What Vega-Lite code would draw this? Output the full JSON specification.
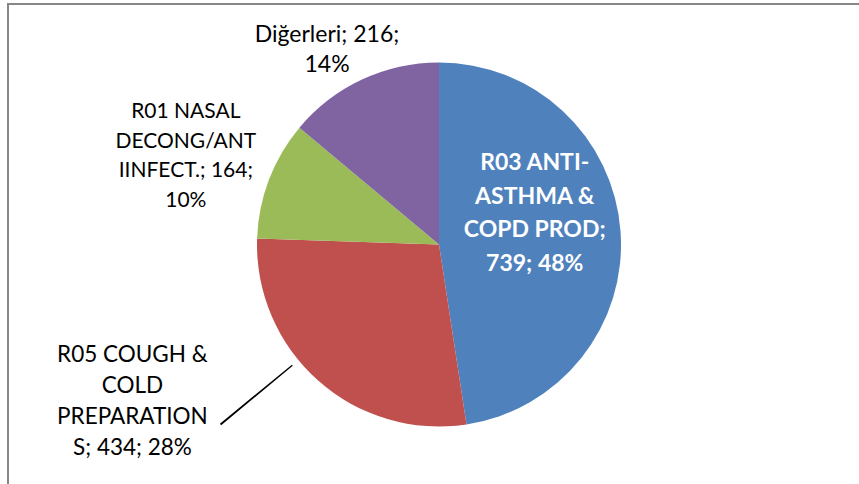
{
  "$schema": "https://vega.github.io/schema/vega-lite/v6.json",
  "width": 862,
  "height": 481,
  "autosize": {"type": "none"},
  "padding": {"left": 8, "top": 4, "right": 0, "bottom": 0},
  "background": "white",
  "config": {"view": {"stroke": null}},
  "data": {
    "values": [
      {"kategori": "R03 ANTI-ASTHMA & COPD PROD", "deger": 739, "pay": "48%", "sira": 1, "etiket": "R03 ANTI-\nASTHMA &\nCOPD PROD;\n739; 48%"},
      {"kategori": "R05 COUGH & COLD PREPARATIONS", "deger": 434, "pay": "28%", "sira": 2, "etiket": "R05 COUGH &\nCOLD\nPREPARATION\nS; 434; 28%"},
      {"kategori": "R01 NASAL DECONG/ANTIINFECT.", "deger": 164, "pay": "10%", "sira": 3, "etiket": "R01 NASAL\nDECONG/ANT\nIINFECT.; 164;\n10%"},
      {"kategori": "Diğerleri", "deger": 216, "pay": "14%", "sira": 4, "etiket": "Diğerleri; 216;\n14%"}
    ]
  },
  "layer": [
    {
      "transform": [{"filter": "datum.sira === 1"}],
      "mark": {"type": "rect", "filled": false, "stroke": "#878787", "strokeWidth": 2},
      "encoding": {}
    },
    {
      "mark": {"type": "arc", "outerRadius": 182},
      "encoding": {
        "theta": {"field": "deger", "type": "quantitative", "stack": true},
        "order": {"field": "sira", "type": "quantitative"},
        "color": {
          "field": "kategori",
          "type": "nominal",
          "scale": {
            "domain": ["R03 ANTI-ASTHMA & COPD PROD", "R05 COUGH & COLD PREPARATIONS", "R01 NASAL DECONG/ANTIINFECT.", "Diğerleri"],
            "range": ["#4F81BD", "#C0504D", "#9BBB59", "#8064A2"]
          },
          "legend": null
        }
      }
    },
    {
      "transform": [{"filter": "datum.sira === 2"}],
      "mark": {"type": "arc", "innerRadius": 190, "outerRadius": 283, "theta": 4.020, "theta2": 4.027, "color": "#000000"},
      "encoding": {}
    },
    {
      "mark": {"type": "text", "radius": 96, "dy": -74, "font": "Lato", "fontWeight": "bold", "fontSize": 23, "lineHeight": 33.5, "color": "white", "lineBreak": "\n", "align": "center", "baseline": "middle"},
      "encoding": {
        "theta": {"field": "deger", "type": "quantitative", "stack": true},
        "order": {"field": "sira", "type": "quantitative"},
        "text": {"condition": {"test": "datum.sira === 1", "field": "etiket"}, "value": ""}
      }
    },
    {
      "mark": {"type": "text", "radius": 290, "dx": -114, "dy": -106, "font": "Lato", "fontSize": 22.5, "lineHeight": 31, "color": "#000000", "lineBreak": "\n", "align": "center", "baseline": "middle"},
      "encoding": {
        "theta": {"field": "deger", "type": "quantitative", "stack": true},
        "order": {"field": "sira", "type": "quantitative"},
        "text": {"condition": {"test": "datum.sira === 2", "field": "etiket"}, "value": ""}
      }
    },
    {
      "mark": {"type": "text", "radius": 270, "dx": -1, "dy": -36, "font": "Lato", "fontSize": 21, "lineHeight": 29.5, "color": "#000000", "lineBreak": "\n", "align": "center", "baseline": "middle"},
      "encoding": {
        "theta": {"field": "deger", "type": "quantitative", "stack": true},
        "order": {"field": "sira", "type": "quantitative"},
        "text": {"condition": {"test": "datum.sira === 3", "field": "etiket"}, "value": ""}
      }
    },
    {
      "mark": {"type": "text", "radius": 215, "dx": -21, "dy": -15, "font": "Lato", "fontSize": 23, "lineHeight": 30, "color": "#000000", "lineBreak": "\n", "align": "center", "baseline": "middle"},
      "encoding": {
        "theta": {"field": "deger", "type": "quantitative", "stack": true},
        "order": {"field": "sira", "type": "quantitative"},
        "text": {"condition": {"test": "datum.sira === 4", "field": "etiket"}, "value": ""}
      }
    }
  ]
}
